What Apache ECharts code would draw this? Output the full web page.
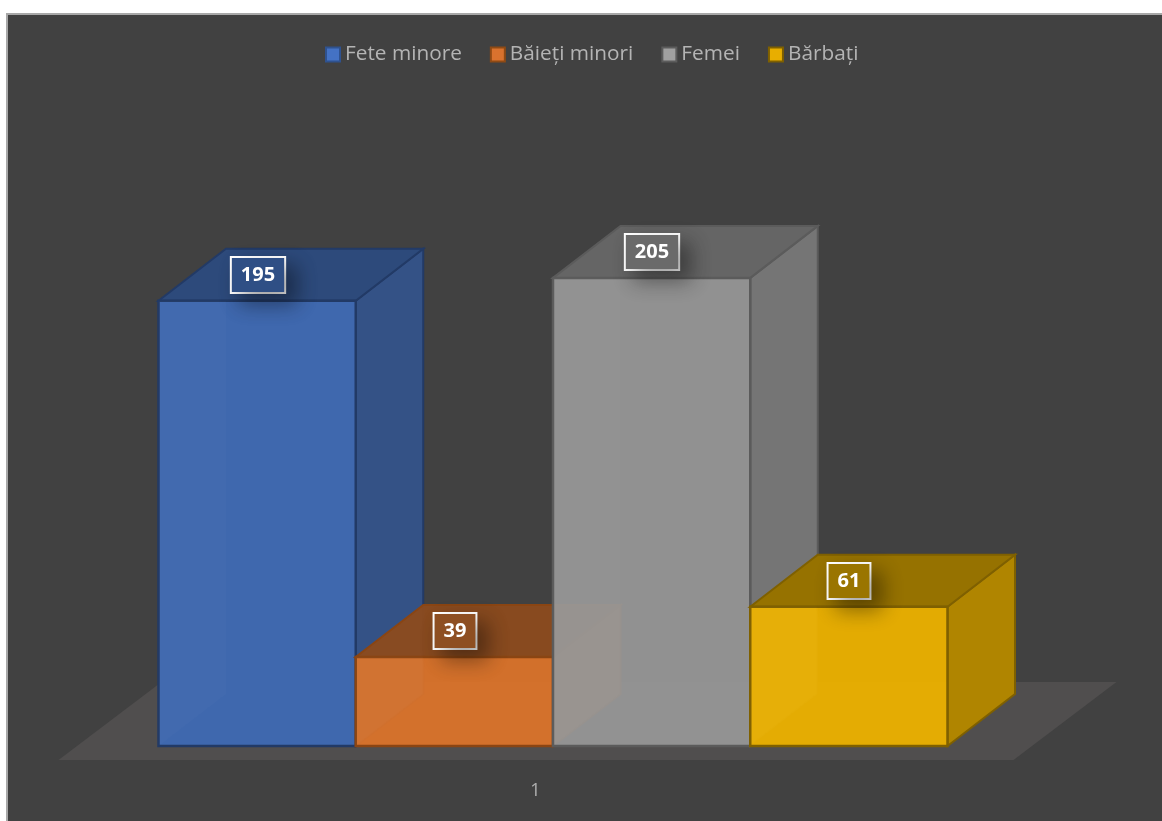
<!DOCTYPE html>
<html>
<head>
<meta charset="utf-8">
<style>
html,body{margin:0;padding:0;background:#fff;overflow:hidden}
#frame{position:absolute;left:6px;top:13px;width:1156px;height:808px;box-sizing:border-box;background:#414141;border-left:2px solid #a8a8a8;border-top:2px solid #a8a8a8}
#chart{position:absolute;left:0;top:0;width:1162px;height:821px}
</style>
<script src="https://cdn.jsdelivr.net/npm/echarts@6/dist/echarts.min.js"></script>
</head>
<body>
<div id="frame"></div>
<div id="chart"></div>
<script>
const categories = ['1'];
const seriesNames = ['Fete minore', 'Băieți minori', 'Femei', 'Bărbați'];
const seriesValues = [195, 39, 205, 61];
const frontColors = ['rgba(63,105,176,0.98)', 'rgba(218,115,42,0.95)', 'rgba(152,152,152,0.93)', 'rgba(234,176,0,0.96)'];
const topColors = ['#2d4a7b', 'rgba(139,75,30,0.96)', '#656565', '#967200'];
const sideColors = ['#345286', '#a0561f', '#757575', '#b08500'];
const edgeColors = ['#223a66', '#8a4513', '#5b5b5b', '#7f6000'];
const boxColors = ['#2f4f85', '#8e4f22', '#6a6a6a', '#9a7500'];
const legendFill = ['#4472c4', '#d9722e', '#a0a0a0', '#e8ae00'];
const legendEdge = ['#2f528f', '#8f4a14', '#5c5c5c', '#7f6000'];
const legendTrail = [0, 0, 7, 0];
const DX = 67.5, DY = 52;

function barRender(i) {
  return function (params, api) {
    const p = api.coord([api.value(0), api.value(1)]);
    const base = api.coord([api.value(0), 0]);
    const w = api.size([1, 0])[0] / seriesValues.length;
    const x0 = p[0] + (i - seriesValues.length / 2) * w;
    const x1 = x0 + w;
    const y0 = base[1], y1 = p[1];
    const edge = edgeColors[i];
    const poly = (pts, fill, lw) => ({
      type: 'polygon',
      shape: { points: pts },
      style: { fill: fill, stroke: lw ? edge : null, lineWidth: lw || 0 }
    });
    return {
      type: 'group',
      children: [
        poly([[x1, y1], [x1 + DX, y1 - DY], [x1 + DX, y0 - DY], [x1, y0]], sideColors[i], 2),
        poly([[x0, y1], [x0 + DX, y1 - DY], [x1 + DX, y1 - DY], [x1, y1]], topColors[i], 2),
        poly([[x0, y0], [x1, y0], [x1, y1], [x0, y1]], frontColors[i], 2.5),
        poly([[x0, y0], [x0 + DX, y0 - DY], [x0 + DX, y1], [x0, y1]], 'rgba(255,255,255,0.015)', 0),
        {
          type: 'text',
          z2: 10,
          style: {
            text: String(seriesValues[i]),
            x: Math.round((x0 + x1) / 2 + 0.5),
            y: Math.round(y1 - 26),
            align: 'center',
            verticalAlign: 'middle',
            fill: '#ffffff',
            font: 'bold 20px "Open Sans"',
            backgroundColor: boxColors[i],
            borderColor: '#ffffff',
            borderWidth: 2,
            padding: [7, 9, 7, 9],
            shadowBlur: 20,
            shadowColor: 'rgba(0,0,0,0.38)',
            shadowOffsetX: 10,
            shadowOffsetY: 10
          }
        }
      ]
    };
  };
}

function floorRender(params, api) {
  const r = params.coordSys;
  const left = r.x, right = r.x + r.width, bottom = r.y + r.height;
  return {
    type: 'polygon',
    shape: { points: [
      [left - 100, bottom + 14],
      [right + 66, bottom + 14],
      [right + 169, bottom - 64],
      [left + 3, bottom - 64]
    ] },
    style: { fill: '#504e4e' }
  };
}

const chart = echarts.init(document.getElementById('chart'), null, { renderer: 'canvas' });
chart.setOption({
  backgroundColor: 'transparent',
  animation: false,
  grid: { left: 158.5, width: 789, top: 61, height: 685 },
  legend: {
    left: 320,
    top: 39,
    itemWidth: 14,
    itemHeight: 14,
    itemGap: 28,
    icon: 'rect',
    textStyle: { color: '#b4b4b4', fontSize: 20.8, fontFamily: '"Open Sans"', padding: [0, 0, 0, 0] },
    data: seriesNames.map((n, i) => ({
      name: n,
      itemStyle: { color: legendFill[i], borderColor: legendEdge[i], borderWidth: 2 },
      textStyle: { color: '#b4b4b4', fontSize: 20.8, fontFamily: '"Open Sans"', padding: [0, legendTrail[i], 0, 0] }
    }))
  },
  xAxis: {
    type: 'category',
    data: categories,
    axisLine: { show: false },
    axisTick: { show: false },
    axisLabel: { color: '#b0b0b0', fontSize: 18, fontFamily: '"Open Sans"', margin: 36, padding: [0, 35, 0, 0] }
  },
  yAxis: { type: 'value', min: 0, max: 300, show: false },
  series: [
    { type: 'custom', name: 'floor', silent: true, renderItem: floorRender, data: [[0, 0]], encode: { x: 0, y: 1 }, z: 1 }
  ].concat(seriesNames.map((n, i) => ({
    type: 'custom',
    name: n,
    z: 2 + i,
    renderItem: barRender(i),
    data: [[0, seriesValues[i]]],
    encode: { x: 0, y: 1 },
    itemStyle: { color: legendFill[i] }
  })))
});
</script>
</body>
</html>
